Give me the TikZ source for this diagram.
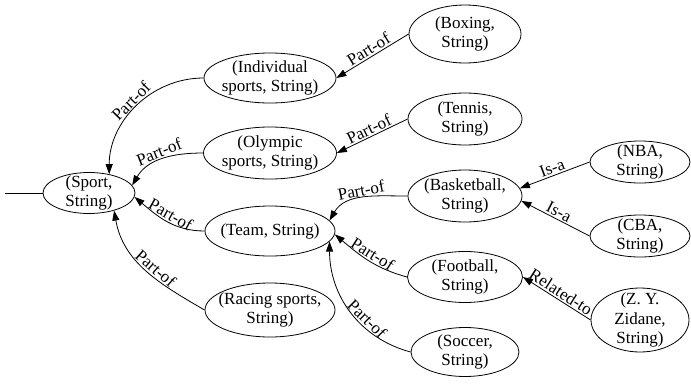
\documentclass[tikz,border=0pt]{standalone}
\usepackage{fontspec}
\setmainfont{Liberation Serif}
\usetikzlibrary{arrows.meta, positioning, shapes.geometric}
\tikzset{
    entity/.style={ellipse, draw=black, line width=0.8pt, inner xsep=-9pt, inner ysep=-5pt, align=center, font=\fontsize{17}{19.5}\selectfont},
    arrow/.style={-{Triangle[length=10pt, width=7pt]}, line width=0.8pt, draw=black},
    edgelabel/.style={font=\fontsize{17}{19.5}\selectfont, sloped, above, inner sep=1.5pt}
}

\begin{document}
\begin{tikzpicture}[on grid]
    \useasboundingbox (0pt,0pt) rectangle (691pt,-386pt);

    \node[entity, minimum width=92pt, minimum height=41pt] (sport) at (89pt,-193pt) {(Sport,\\String)};
    \coordinate[left=38pt of sport.west] (entry);

    \node[entity, below right=38pt and 181pt of sport, minimum width=130pt, minimum height=50pt] (team) {(Team, String)};
    \node[entity, above=78pt of team, minimum width=133pt, minimum height=52pt] (olympic) {(Olympic\\sports, String)};
    \node[entity, above=75pt of olympic, minimum width=132pt, minimum height=50pt] (indiv) {(Individual\\sports, String)};
    \node[entity, below=79pt of team, minimum width=130pt, minimum height=54pt] (racing) {(Racing sports,\\String)};

    \node[entity, above right=35pt and 195pt of team, minimum width=114pt, minimum height=52pt] (basket) {(Basketball,\\String)};
    \node[entity, above=77pt of basket, minimum width=114pt, minimum height=52pt] (tennis) {(Tennis,\\String)};
    \node[entity, above=85pt of tennis, minimum width=112pt, minimum height=58pt] (boxing) {(Boxing,\\String)};
    \node[entity, below=81pt of basket, minimum width=115pt, minimum height=51pt] (football) {(Football,\\String)};
    \node[entity, below=75pt of football, minimum width=108pt, minimum height=49pt] (soccer) {(Soccer,\\String)};

    \node[entity, above right=34pt and 175pt of basket, minimum width=100pt, minimum height=42pt] (nba) {(NBA,\\String)};
    \node[entity, below=74pt of nba, minimum width=100pt, minimum height=42pt] (cba) {(CBA,\\String)};
    \node[entity, below right=43pt and 175pt of football, minimum width=98pt, minimum height=64pt] (zidane) {(Z. Y.\\Zidane,\\String)};

    \draw[line width=0.8pt] (entry) -- (sport);

    % towards Sport
    \draw[arrow] (indiv.west) to[out=180, in=90] node[edgelabel]{Part-of} (sport.43);
    \draw[arrow] (olympic.west) to[out=180, in=60] node[edgelabel]{Part-of} (sport.10);
    \draw[arrow] (team.west) to[out=180, in=-40] node[edgelabel]{Part-of} (sport.-5);
    \draw[arrow] (racing.west) to[out=150, in=-80] node[edgelabel, pos=0.45]{Part-of} (sport.-35);

    % second level
    \draw[arrow] (boxing.west) -- node[edgelabel]{Part-of} (indiv.east);
    \draw[arrow] (tennis.west) -- node[edgelabel]{Part-of} (olympic.east);
    \draw[arrow] (basket.west) to[out=180, in=60] node[edgelabel]{Part-of} (team.10);
    \draw[arrow] (football.west) to[out=165, in=-40] node[edgelabel]{Part-of} (team.-3);
    \draw[arrow] (soccer.west) to[out=165, in=-90] node[edgelabel, pos=0.38]{Part-of} (team.-10);

    % third level
    \draw[arrow] (nba.west) -- node[edgelabel]{Is-a} (basket.8);
    \draw[arrow] (cba.west) -- node[edgelabel]{Is-a} (basket.-5);
    \draw[arrow] (zidane.west) -- node[edgelabel]{Related-to} (football.east);
\end{tikzpicture}
\end{document}
